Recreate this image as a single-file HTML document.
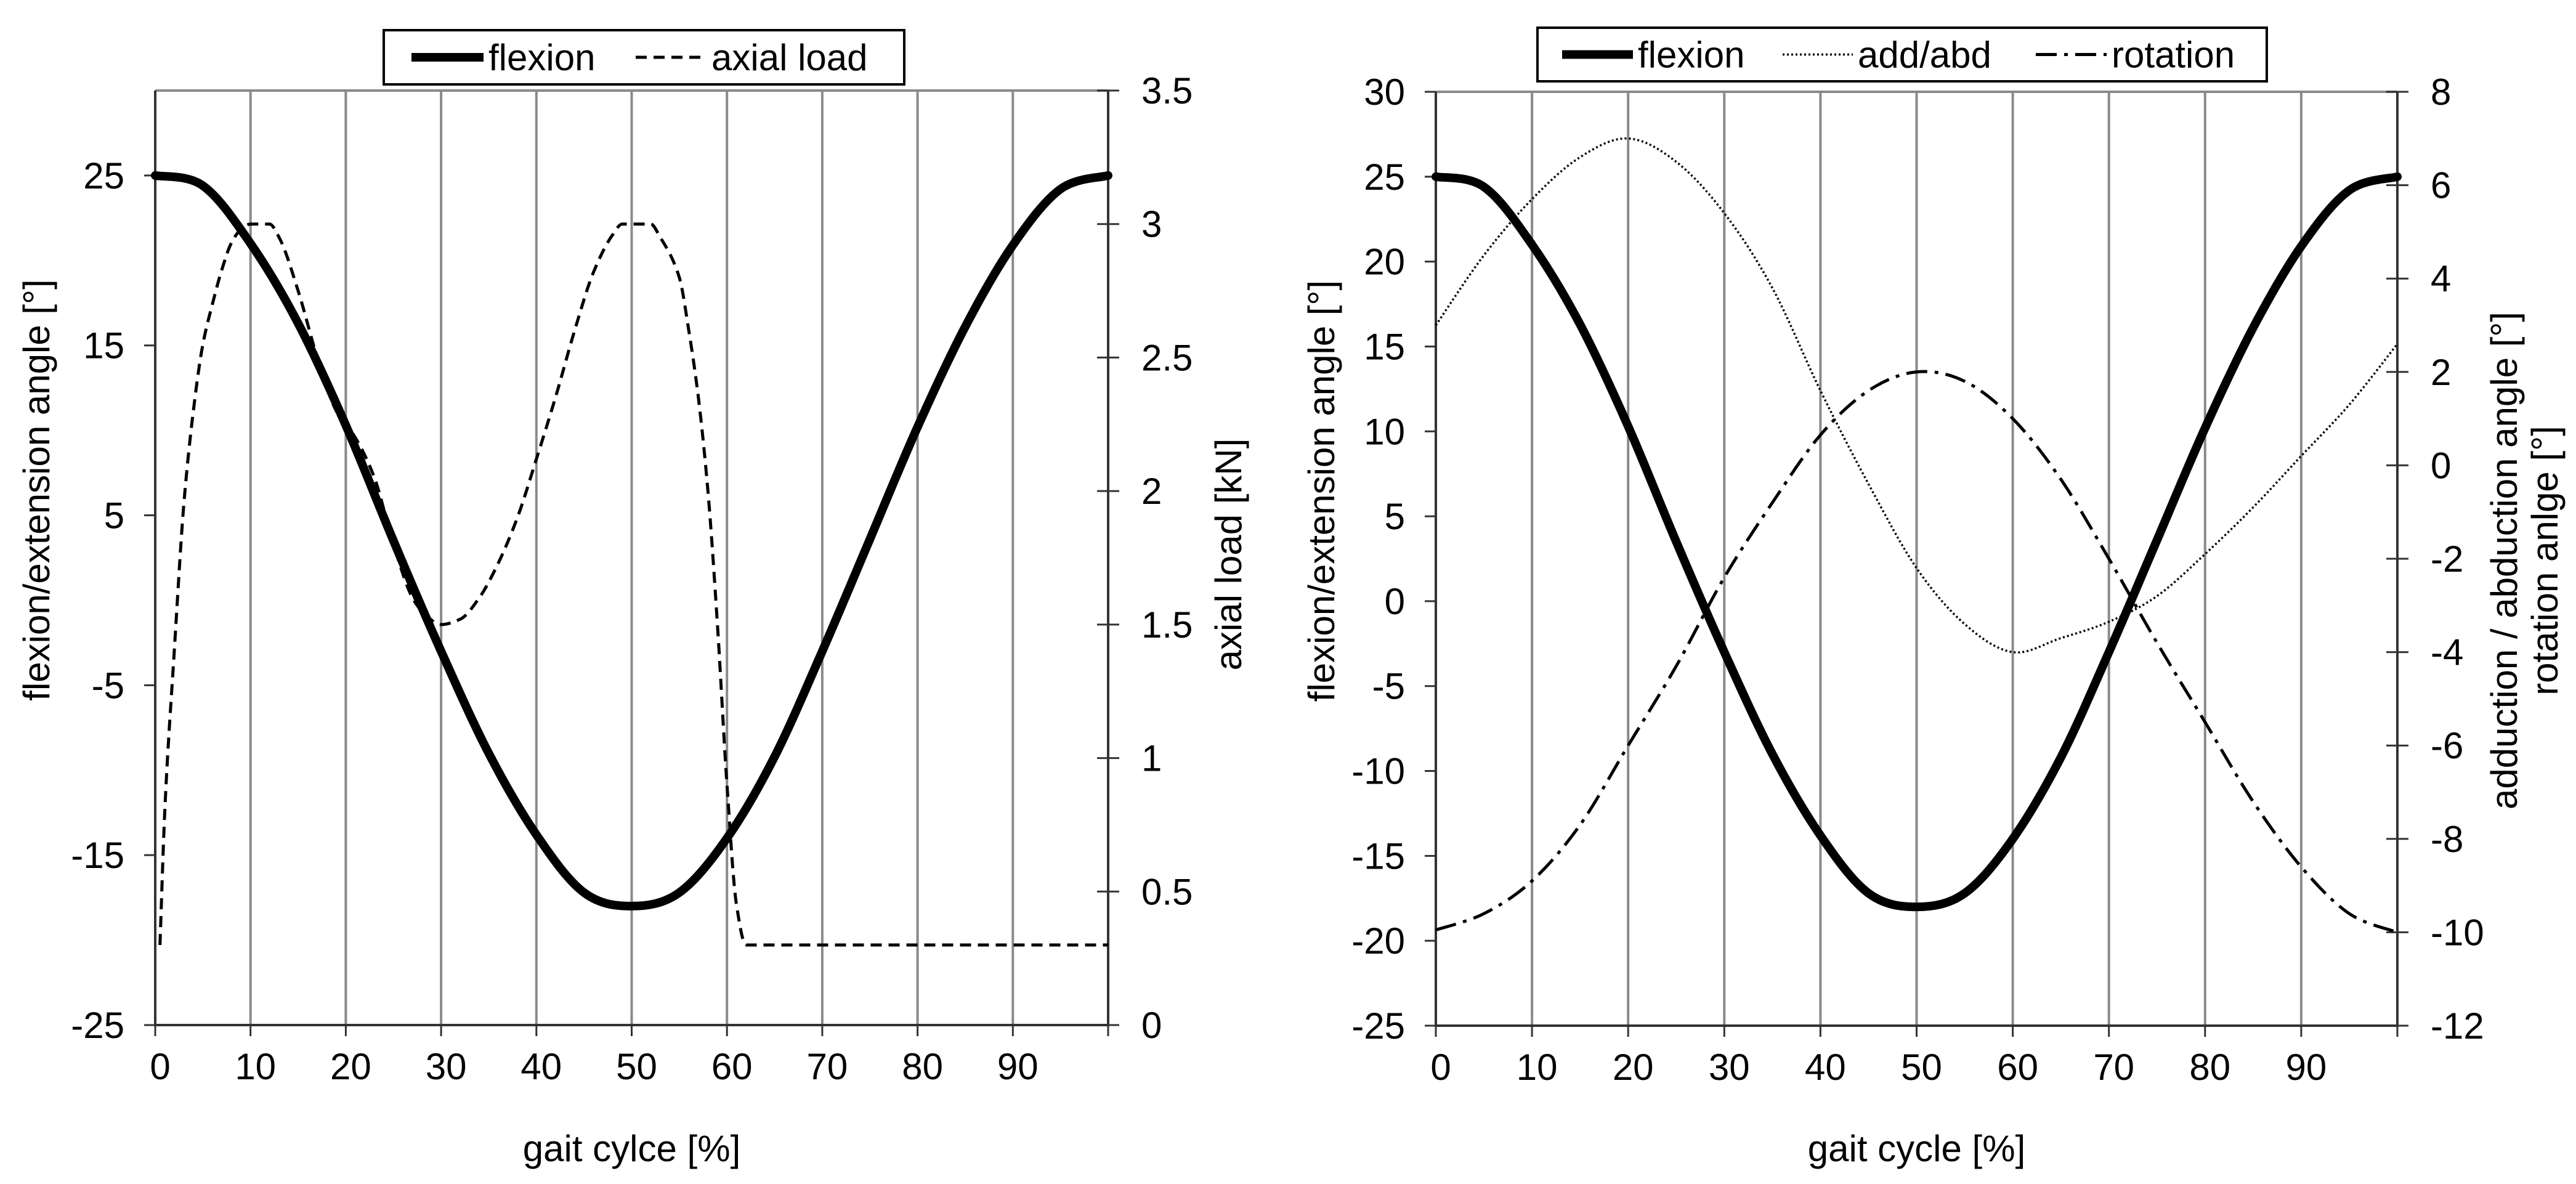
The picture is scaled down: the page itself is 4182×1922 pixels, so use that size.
<!DOCTYPE html>
<html><head><meta charset="utf-8"><style>
html,body{margin:0;padding:0;background:#fff;}
svg{display:block;font-family:"Liberation Sans",Arial,sans-serif;}
</style></head><body>
<svg id="c" width="4182" height="1922" viewBox="0 0 4182 1922" xmlns="http://www.w3.org/2000/svg"></svg>
<script>
const xPct = [0,5,10,15,20,25,30,35,40,45,50,55,60,65,70,75,80,85,90,95,100];
const flexion = [25,24.4,21,16.3,10.3,3.5,-3,-9,-13.8,-17.2,-18,-17.2,-14,-9.2,-3,3.6,10.2,16.1,20.9,24.2,25];
const loadX = [0.5,1,2,3,4,5,6,7,8,9,10,12,13,15,17,19,21,23,25,27,28,30,32,34,36,38,40,42,44,46,48,49,52,53,55,56,57,58,59,60,61,62,100];
const loadKN = [0.3,0.8,1.4,1.95,2.3,2.55,2.7,2.83,2.93,2.98,3.0,3.0,2.95,2.75,2.5,2.3,2.2,2.05,1.8,1.6,1.55,1.5,1.52,1.6,1.73,1.9,2.12,2.35,2.6,2.82,2.96,3.0,3.0,2.95,2.8,2.6,2.35,2.0,1.5,0.9,0.45,0.3,0.3];
const addAbd = [3.0,4.5,5.7,6.6,7.0,6.5,5.4,3.8,1.6,-0.4,-2.2,-3.4,-4.0,-3.7,-3.35,-2.8,-1.9,-0.9,0.2,1.3,2.6];
const rotation = [-9.95,-9.6,-8.9,-7.7,-6.0,-4.3,-2.4,-0.8,0.65,1.6,2.0,1.8,1.0,-0.3,-2.0,-3.8,-5.5,-7.2,-8.6,-9.6,-10.0];
const xTicks = [0,10,20,30,40,50,60,70,80,90];
const leftTicksA = [-25,-15,-5,5,15,25];
const rightTicksA = [0,0.5,1,1.5,2,2.5,3,3.5];
const leftTicksB = [-25,-20,-15,-10,-5,0,5,10,15,20,25,30];
const rightTicksB = [-12,-10,-8,-6,-4,-2,0,2,4,6,8];

const NS="http://www.w3.org/2000/svg";
const svg=document.getElementById('c');
function el(tag,attrs,parent,text){const e=document.createElementNS(NS,tag);for(const k in attrs)e.setAttribute(k,attrs[k]);if(text!==undefined)e.textContent=text;(parent||svg).appendChild(e);return e;}
function catmull(pts){let d='M'+pts[0][0]+','+pts[0][1];for(let i=0;i<pts.length-1;i++){const p0=pts[i-1]||pts[i],p1=pts[i],p2=pts[i+1],p3=pts[i+2]||p2;const c1=[p1[0]+(p2[0]-p0[0])/6,p1[1]+(p2[1]-p0[1])/6],c2=[p2[0]-(p3[0]-p1[0])/6,p2[1]-(p3[1]-p1[1])/6];d+=' C'+c1[0].toFixed(1)+','+c1[1].toFixed(1)+' '+c2[0].toFixed(1)+','+c2[1].toFixed(1)+' '+p2[0].toFixed(1)+','+p2[1].toFixed(1);}return d;}
function monotone(pts){
  const n=pts.length,dx=[],m=[],t=[];
  for(let i=0;i<n-1;i++){dx.push(pts[i+1][0]-pts[i][0]);m.push((pts[i+1][1]-pts[i][1])/dx[i]);}
  t[0]=m[0];t[n-1]=m[n-2];
  for(let i=1;i<n-1;i++){ if(m[i-1]*m[i]<=0) t[i]=0; else { const w1=2*dx[i]+dx[i-1],w2=dx[i]+2*dx[i-1]; t[i]=(w1+w2)/(w1/m[i-1]+w2/m[i]); } }
  let d='M'+pts[0][0].toFixed(1)+','+pts[0][1].toFixed(1);
  for(let i=0;i<n-1;i++){const h=dx[i]/3;
    d+=' C'+(pts[i][0]+h).toFixed(1)+','+(pts[i][1]+t[i]*h).toFixed(1)+' '+(pts[i+1][0]-h).toFixed(1)+','+(pts[i+1][1]-t[i+1]*h).toFixed(1)+' '+pts[i+1][0].toFixed(1)+','+pts[i+1][1].toFixed(1);}
  return d;
}

function chart(cfg){
  const g=el('g',{});
  
  
  const X=v=>cfg.x0+(v-0)/100*(cfg.x1-cfg.x0);
  const YL=v=>cfg.y1-(v-cfg.lmin)/(cfg.lmax-cfg.lmin)*(cfg.y1-cfg.y0);
  const YR=v=>cfg.y1-(v-cfg.rmin)/(cfg.rmax-cfg.rmin)*(cfg.y1-cfg.y0);
  for(const t of xTicks.concat([100])){ if(t===0) continue;
    const l=el('line',{x1:X(t),x2:X(t),y1:cfg.y0,y2:cfg.y1,stroke:'#8a8a8a','stroke-width':4},g);
    
    
  }
  el('line',{x1:cfg.x0,x2:cfg.x1,y1:cfg.y0,y2:cfg.y0,stroke:'#8a8a8a','stroke-width':4},g);
  const ax=el('path',{d:`M${cfg.x0},${cfg.y0} V${cfg.y1} H${cfg.x1} V${cfg.y0}`,fill:'none',stroke:'#333','stroke-width':4},g);
  
  
  for(const t of xTicks){
    el('line',{x1:X(t),x2:X(t),y1:cfg.y1,y2:cfg.y1+18,stroke:'#333','stroke-width':3},g);
    const tx=el('text',{x:X(t)+8,y:cfg.y1+88,'font-size':60,'text-anchor':'middle'},g,t);
    
    
  }
  el('line',{x1:cfg.x1,x2:cfg.x1,y1:cfg.y1,y2:cfg.y1+18,stroke:'#333','stroke-width':3},g);
  for(const t of cfg.lt){
    el('line',{x1:cfg.x0-18,x2:cfg.x0,y1:YL(t),y2:YL(t),stroke:'#333','stroke-width':3},g);
    const tx=el('text',{x:cfg.x0-50,y:YL(t)+21,'font-size':60,'text-anchor':'end'},g,t);
    
    
  }
  for(const t of cfg.rt){
    el('line',{x1:cfg.x1-18,x2:cfg.x1+18,y1:YR(t),y2:YR(t),stroke:'#333','stroke-width':3},g);
    const tx=el('text',{x:cfg.x1+54,y:YR(t)+21,'font-size':60,'text-anchor':'start'},g,t);
    
    
  }
  const xt=el('text',{x:(cfg.x0+cfg.x1)/2,y:1885,'font-size':60,'text-anchor':'middle'},g,cfg.xtitle);
  
  
  const lt=el('text',{x:0,y:0,'font-size':60,'text-anchor':'middle',transform:`translate(${cfg.ltx},${(cfg.y0+cfg.y1)/2-110}) rotate(-90)`},g,cfg.ltitle);
  
  
  cfg.rtitle.forEach((s,i)=>{
    const rt=el('text',{x:0,y:0,'font-size':60,'text-anchor':'middle',transform:`translate(${cfg.rtx+i*66},${cfg.rty}) rotate(-90)`},g,s);
    
    
  });
  return {g,X,YL,YR};
}

const A=chart({name:'flexion-load-chart',x0:252,x1:1799,y0:147,y1:1664,lmin:-25,lmax:30,rmin:0,rmax:3.5,lt:leftTicksA,rt:rightTicksA,
  xtitle:'gait cylce [%]',ltitle:'flexion/extension angle [°]',ltx:80,rtitle:['axial load [kN]'],rtx:2015,rty:900});
let p=el('path',{d:monotone(loadX.map((x,i)=>[A.X(x),A.YR(loadKN[i])])),fill:'none',stroke:'#000','stroke-width':5,'stroke-dasharray':'18 11'},A.g);


p=el('path',{d:catmull(xPct.map((x,i)=>[A.X(x),A.YL(flexion[i])])),fill:'none',stroke:'#000','stroke-width':14,'stroke-linecap':'round'},A.g);



const B=chart({name:'flexion-rotation-chart',x0:2331,x1:3892,y0:149,y1:1665,lmin:-25,lmax:30,rmin:-12,rmax:8,lt:leftTicksB,rt:rightTicksB,
  xtitle:'gait cycle [%]',ltitle:'flexion/extension angle [°]',ltx:2166,rtitle:['adduction / abduction angle [°]','rotation anlge [°]'],rtx:4086,rty:910});
p=el('path',{d:catmull(xPct.map((x,i)=>[B.X(x),B.YR(addAbd[i])])),fill:'none',stroke:'#000','stroke-width':3.5,'stroke-dasharray':'3 4'},B.g);


p=el('path',{d:catmull(xPct.map((x,i)=>[B.X(x),B.YR(rotation[i])])),fill:'none',stroke:'#000','stroke-width':5,'stroke-dasharray':'34 12 6 12'},B.g);


p=el('path',{d:catmull(xPct.map((x,i)=>[B.X(x),B.YL(flexion[i])])),fill:'none',stroke:'#000','stroke-width':14,'stroke-linecap':'round'},B.g);



function legend(name,x0,y0,x1,y1,items){
  const g=el('g',{});
  
  
  el('rect',{x:x0,y:y0,width:x1-x0,height:y1-y0,fill:'#fff',stroke:'#000','stroke-width':4},g);
  const cy=(y0+y1)/2;
  items.forEach(it=>{
    const l=el('line',{x1:it.a,x2:it.b,y1:cy,y2:cy,stroke:'#000','stroke-width':it.w},g);
    if(it.dash) l.setAttribute('stroke-dasharray',it.dash);
    
    
    const t=el('text',{x:it.b+8,y:cy+21,'font-size':60},g,it.label);
    
    
  });
}
legend('legend-left',623,49,1468,137,[
  {a:668,b:785,w:14,label:'flexion'},
  {a:1032,b:1147,w:5,dash:'18 11',label:'axial load'}]);
legend('legend-right',2496,45,3680,132,[
  {a:2536,b:2651,w:14,label:'flexion'},
  {a:2894,b:3008,w:3.5,dash:'3 4',label:'add/abd'},
  {a:3305,b:3420,w:5,dash:'34 12 6 12',label:'rotation'}]);
</script>
</body></html>
